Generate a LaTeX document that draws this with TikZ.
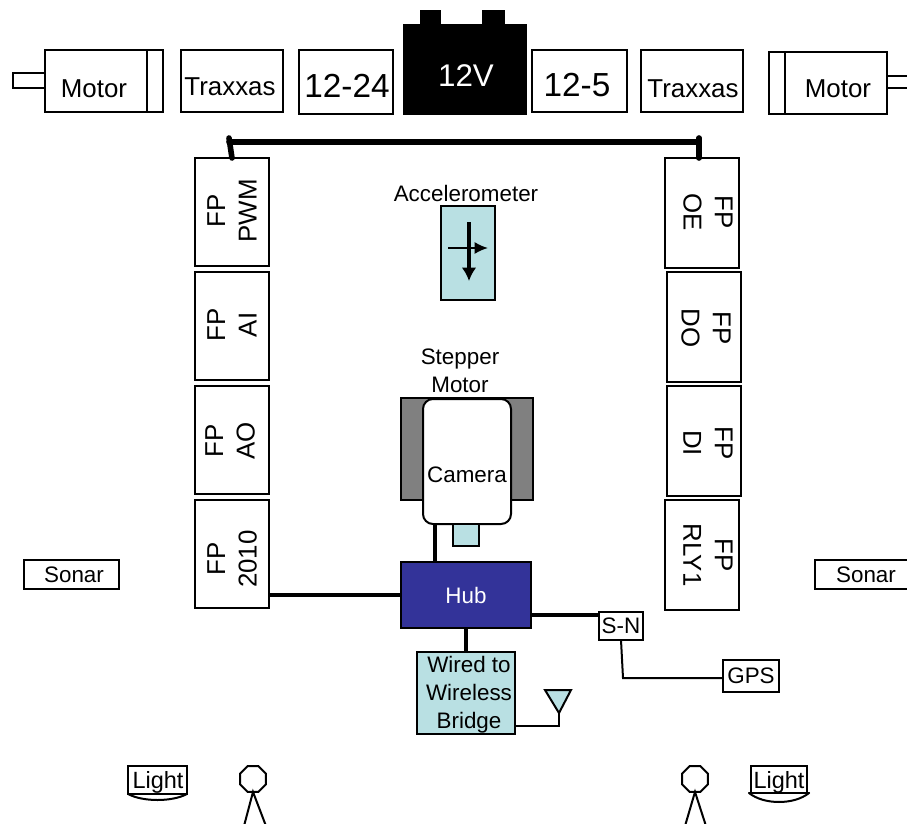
\documentclass[tikz,border=0pt]{standalone}
\usepackage{fontspec}
\setmainfont{Liberation Sans}
\usetikzlibrary{arrows.meta,calc,shapes.geometric}
\definecolor{paleblue}{HTML}{B9E0E3}
\definecolor{hubblue}{HTML}{333399}
\definecolor{stepgray}{HTML}{808080}

\begin{document}
\begin{tikzpicture}[x=0.75pt,y=-0.75pt,line width=1.5pt,
  every node/.style={inner sep=0pt,outer sep=0pt,align=center,font=\fontsize{16.8}{21}\selectfont},
  size/.style 2 args={minimum width=#1*0.75pt,minimum height=#2*0.75pt},
  boxnode/.style={draw,fill=white},
  bluenode/.style={draw,fill=paleblue},
  medtext/.style={font=\fontsize{19.4}{23.6}\selectfont},
  lighttext/.style={font=\fontsize{17.6}{21}\selectfont},
  bigtext/.style={font=\fontsize{25}{30}\selectfont},
  heavy/.style={line width=3.2pt},
  bus/.style={line width=4.2pt,line cap=round},
]
\useasboundingbox (0,0) rectangle (907,824);

% the left motor
\node[boxnode,size={32}{15}] (shaftl) at (29,80.5) {};
\node[boxnode,size={102}{62}] (motorl) at (96,81) {};
\node[boxnode,size={16}{62}] (capl) at (155,81) {};
\node[medtext] (motorltxt) at (94,89) {Motor};

% the right motor
\node[boxnode,size={30}{12}] (shaftr) at (902,82) {};
\node[boxnode,size={102}{62}] (motorr) at (836,83) {};
\node[boxnode,size={16}{62}] (capr) at (777,83) {};
\node[medtext] (motorrtxt) at (838,89) {Motor};

% the power row
\node[boxnode,size={102}{62}] (traxl) at (232,81) {};
\node[medtext] (traxltxt) at (230,87) {Traxxas};
\node[boxnode,size={94}{64}] (convl) at (346,82) {};
\node[bigtext] (convltxt) at (347,86) {12-24};
\node[draw,fill=black,size={122}{89}] (batt) at (465,69.5) {};
\node[draw,fill=black,size={19}{14}] (terml) at (430,18) {};
\node[draw,fill=black,size={21}{14}] (termr) at (493,18) {};
\node[text=white,font=\fontsize{23.5}{28}\selectfont] (batttxt) at (466,76) {12V};
\node[boxnode,size={95}{62}] (convr) at (579.5,81) {};
\node[bigtext] (convrtxt) at (577,85) {12-5};
\node[boxnode,size={102}{62}] (traxr) at (692,81) {};
\node[medtext] (traxrtxt) at (693,89) {Traxxas};

% the FP modules
\foreach \nm/\x/\y/\tx/\ty/\lbl in {fppwm/232/212/232/211/{FP\\PWM},fpai/232/326/232/325/{FP\\AI},
  fpao/232/440/230/441/{FP\\AO},fptwo/232/554/232/559/{FP\\2010}}
{
  \node[boxnode,size={74}{108}] (\nm) at (\x,\y) {};
  \node[medtext,rotate=90] (\nm txt) at (\tx,\ty) {\lbl};
}
\foreach \nm/\x/\y/\tx/\ty/\lbl in {fpoe/702/213/708/212/{FP\\OE},fpdo/704/327/706/328/{FP\\DO},
  fpdi/704/441/708/443/{FP\\DI},fprly/702/555/708/555/{FP\\RLY1}}
{
  \node[boxnode,size={74}{110}] (\nm) at (\x,\y) {};
  \node[medtext,rotate=-90] (\nm txt) at (\tx,\ty) {\lbl};
}

% the power bus
\coordinate (busl) at (229,142);
\coordinate (busr) at (699,142);
\coordinate (stubl) at (229,138);
\coordinate (stubr) at (699,138);
\draw[bus] (busl) -- (busr);
\draw[bus] (stubl) -- (fppwm.north);
\draw[bus] (stubr) -- (stubr |- fpoe.north);

% the accelerometer
\node (acceltxt) at (466,193) {Accelerometer};
\node[bluenode,size={54}{94}] (accel) at (468,253) {};
\coordinate (xfrom) at (448,248);
\coordinate (xto) at (488,248);
\coordinate (yfrom) at (469,222);
\coordinate (yto) at (469,281);
\draw[-{Latex[length=10pt,width=9pt]},line width=1.5pt] (xfrom) -- (xto);
\draw[-{Latex[length=10pt,width=11pt]},heavy] (yfrom) -- (yto);

% the stepper and camera
\node (steptxt) at (460,371) {Stepper\\Motor};
\node[draw,fill=stepgray,size={132}{102}] (stepper) at (467,449) {};
\node[draw,fill=white,rounded corners=7.5pt,size={88}{125}] (camera) at (467,461.5) {};
\node (camtxt) at (467,475) {Camera};
\node[bluenode,size={26}{22}] (lens) at (466,535) {};

% the hub and what hangs on it
\node[draw,fill=hubblue,size={130}{66},text=white] (hub) at (466,595) {Hub};
\node[bluenode,size={98}{82}] (bridge) at (466,693) {};
\node (bridgetxt) at (469,695) {Wired to\\Wireless\\Bridge};
\node[boxnode,size={44}{28}] (sn) at (621,626) {S-N};
\node[boxnode,size={56}{32}] (gps) at (751,676) {GPS};
\coordinate (camlink) at (435,524);
\coordinate (hubsn) at (531,615);
\coordinate (snturn) at (623,678);
\draw[heavy] (camlink) -- (camlink |- hub.north);
\draw[heavy] (fptwo.east |- hub.west) -- (hub.west);
\draw[heavy] (hubsn) -- (hubsn -| sn.west);
\draw[heavy] (hub.south) -- (bridge.north);
\draw (sn.south) -- (snturn) -- (snturn -| gps.west);

% the antenna
\coordinate (anttip) at (559,713);
\coordinate (bridgeant) at (515,726);
\draw[fill=paleblue] (545,690) -- (571,690) -- (anttip) -- cycle;
\draw (anttip) |- (bridgeant);

% the sonars
\node[boxnode,size={95}{29}] (sonarl) at (71.5,574.5) {};
\node (sonarltxt) at (74,574.5) {Sonar};
\node[boxnode,size={95}{29}] (sonarr) at (862.5,574.5) {};
\node (sonarrtxt) at (866,574.5) {Sonar};

% the lights
\node[boxnode,size={59}{28}] (lightl) at (157.5,780) {};
\node[lighttext] (lightltxt) at (158,782) {Light};
\draw (lightl.south west) .. controls +(15,8) and +(-15,8) .. (lightl.south east);
\node[boxnode,size={56}{27}] (lightr) at (779,779.5) {};
\node[lighttext] (lightrtxt) at (779,782) {Light};
\coordinate (lampl) at (749,793);
\coordinate (lampr) at (809,793);
\draw[line cap=round] (lampl) -- (lampr);
\draw[line cap=round] (lampl) .. controls +(15,12) and +(-15,12) .. (lampr);

% the people
\node[draw,regular polygon,regular polygon sides=8,minimum size=21pt] (headl) at (253,779) {};
\node[draw,regular polygon,regular polygon sides=8,minimum size=21pt] (headr) at (695,779) {};
\coordinate (footla) at (244,826);
\coordinate (footlb) at (266,826);
\coordinate (footra) at (685,826);
\coordinate (footrb) at (706,826);
\draw (footla) -- (headl.south) -- (footlb);
\draw (footra) -- (headr.south) -- (footrb);
\end{tikzpicture}
\end{document}
